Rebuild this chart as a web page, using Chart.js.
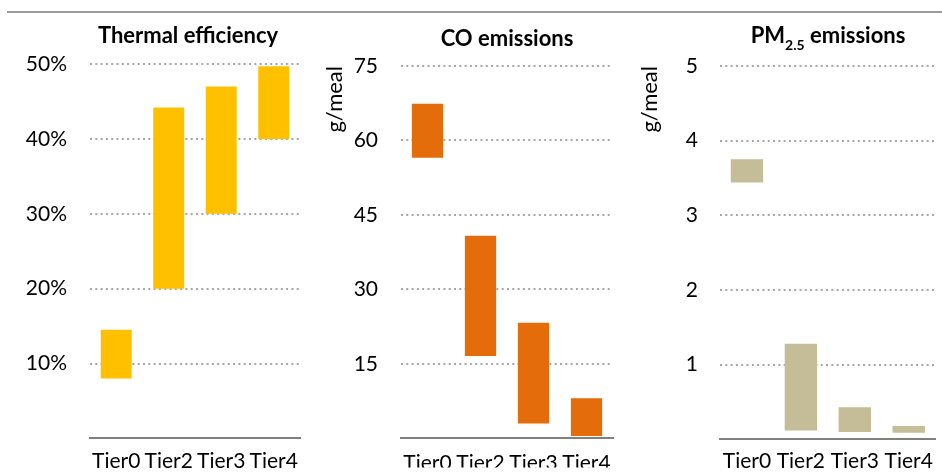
<!DOCTYPE html>
<html>
<head>
<meta charset="utf-8">
<script src="https://cdn.jsdelivr.net/npm/chart.js@4.4.1/dist/chart.umd.min.js"></script>
<style>
  html, body { margin: 0; padding: 0; background: #fff; }
  body { width: 942px; height: 474px; position: relative; overflow: hidden; }
  .topline { position: absolute; left: 7px; right: 0; top: 11px; height: 2px; background: #9a9a9a; }
  .panel { position: absolute; top: 0; height: 474px; }
</style>
</head>
<body>
<div class="topline"></div>
<div class="panel" style="left:0;width:310px"><canvas id="c-thermal"></canvas></div>
<div class="panel" style="left:310px;width:320px"><canvas id="c-co"></canvas></div>
<div class="panel" style="left:630px;width:312px"><canvas id="c-pm"></canvas></div>
<script>
// values (low / high ends of each floating bar)
const tiers = ['Tier0', 'Tier2', 'Tier3', 'Tier4'];

const thermalLow  = [8.0, 20.0, 30.0, 40.0];
const thermalHigh = [14.5, 44.2, 47.0, 49.7];
const thermalTicks = [10, 20, 30, 40, 50];

const coLow  = [56.5, 16.6, 3.0, 0.5];
const coHigh = [67.4, 40.8, 23.3, 8.1];
const coTicks = [15, 30, 45, 60, 75];

const pmLow  = [3.44, 0.12, 0.10, 0.09];
const pmHigh = [3.75, 1.28, 0.43, 0.18];
const pmTicks = [1, 2, 3, 4, 5];

const FONT = 'Lato, Carlito, Calibri, sans-serif';

/* ── title with optional subscript parts ── */
const panelTitle = {
    id: 'panelTitle',
    afterDraw(chart, args, opts) {
        const ctx = chart.ctx;
        const big = `bold ${opts.size}px ${FONT}`;
        const small = `bold ${Math.round(opts.size * 0.65)}px ${FONT}`;
        ctx.save();
        ctx.fillStyle = '#000';
        ctx.textBaseline = 'alphabetic';
        ctx.textAlign = 'left';
        let total = 0;
        opts.parts.forEach(p => { ctx.font = p.sub ? small : big; total += ctx.measureText(p.text).width; });
        let x = opts.x - total / 2;
        opts.parts.forEach(p => {
            ctx.font = p.sub ? small : big;
            ctx.fillText(p.text, x, opts.y + (p.sub ? opts.size * 0.3 : 0));
            x += ctx.measureText(p.text).width;
        });
        ctx.restore();
    }
};

function makePanel(id, o) {
    const ctx = document.getElementById(id).getContext('2d');
    return new Chart(ctx, {
        type: 'bar',
        data: {
            labels: tiers,
            datasets: [{
                data: o.low.map((lo, i) => [lo, o.high[i]]),
                backgroundColor: o.color,
                borderWidth: 0,
                barPercentage: o.barPct,
                categoryPercentage: 1
            }]
        },
        options: {
            responsive: true,
            maintainAspectRatio: false,
            animation: false,
            layout: { padding: { top: o.padTop, right: o.padRight, left: 0, bottom: 0 } },
            plugins: {
                legend: { display: false },
                tooltip: { enabled: false },
                panelTitle: o.title
            },
            scales: {
                x: {
                    grid: { display: false, drawTicks: false },
                    border: { display: true, color: '#808080', width: 2 },
                    ticks: { color: '#000', font: { family: FONT, size: 21 }, padding: o.xPad, maxRotation: 0, autoSkip: false },
                    afterFit: s => { s.height = o.xHeight; }
                },
                y: {
                    min: 0,
                    max: o.ticks[o.ticks.length - 1],
                    afterBuildTicks: s => { s.ticks = o.ticks.map(v => ({ value: v })); },
                    grid: { color: '#a6a6a6', lineWidth: 2, drawTicks: false },
                    border: { display: false, dash: [2, 3.3] },
                    ticks: { color: '#000', font: { family: FONT, size: 21 }, padding: o.yPad, callback: o.fmt },
                    title: o.yTitle,
                    afterFit: s => { s.width = o.yWidth; }
                }
            }
        },
        plugins: [panelTitle]
    });
}

makePanel('c-thermal', {
    low: thermalLow, high: thermalHigh, ticks: thermalTicks, color: '#FFC000', barPct: 0.59,
    padTop: 64, padRight: 10, xHeight: 31, xPad: 10, yWidth: 90, yPad: 23,
    fmt: v => v + '%',
    yTitle: { display: false },
    title: { parts: [{ text: 'Thermal efficiency' }], x: 188, y: 43, size: 22 }
});

makePanel('c-co', {
    low: coLow, high: coHigh, ticks: coTicks, color: '#E46C0A', barPct: 0.59,
    padTop: 66, padRight: 17, xHeight: 29, xPad: 12, yWidth: 91, yPad: 23,
    fmt: v => v,
    yTitle: { display: true, text: 'g/meal', align: 'end', color: '#000', font: { family: FONT, size: 22 }, padding: { top: 12, bottom: 0 } },
    title: { parts: [{ text: 'CO emissions' }], x: 197, y: 46, size: 22 }
});

makePanel('c-pm', {
    low: pmLow, high: pmHigh, ticks: pmTicks, color: '#C4BD97', barPct: 0.6,
    padTop: 66, padRight: 1, xHeight: 32, xPad: 9, yWidth: 90, yPad: 22,
    fmt: v => v,
    yTitle: { display: true, text: 'g/meal', align: 'end', color: '#000', font: { family: FONT, size: 22 }, padding: { top: 7, bottom: 0 } },
    title: { parts: [{ text: 'PM' }, { text: '2.5', sub: true }, { text: ' emissions' }], x: 198, y: 43, size: 22 }
});
</script>
</body>
</html>
